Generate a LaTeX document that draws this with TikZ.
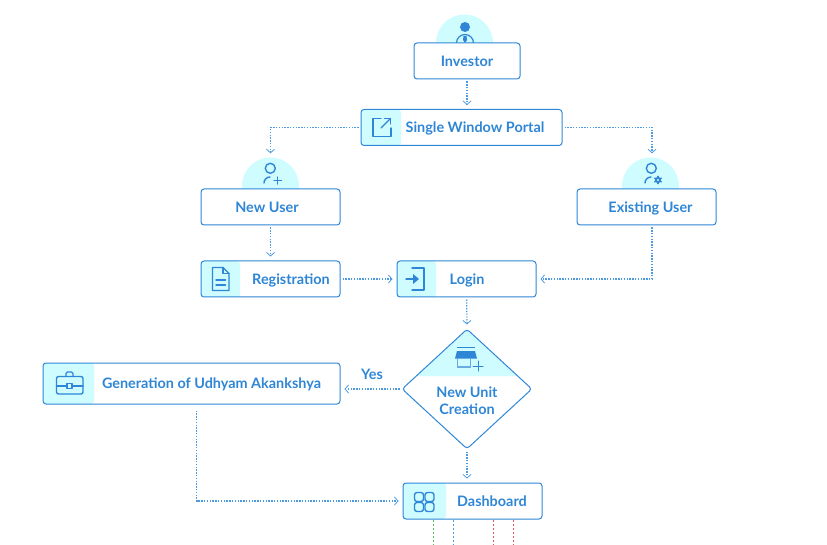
\documentclass[tikz,border=0pt]{standalone}
\usepackage{fontspec}
\setmainfont{Lato}
\usetikzlibrary{arrows.meta,shapes.geometric}
\definecolor{boxblue}{HTML}{2F86D6}
\definecolor{dotblue}{HTML}{4C9BE2}
\definecolor{tintcyan}{HTML}{CFFCFF}
\definecolor{iconblue}{HTML}{2F86D6}
\definecolor{stubgreen}{HTML}{5FC05F}
\definecolor{stubred}{HTML}{E25555}
\tikzset{
  flowbox/.style={draw=boxblue,line width=1pt,rounded corners=3pt,fill=white,inner sep=0pt,
    minimum height=36pt,text=boxblue,text height=12pt,text depth=1.5pt,
    font=\bfseries\fontsize{14.4}{17}\selectfont},
  tinted/.style={path picture={\fill[tintcyan] (path picture bounding box.south west) rectangle
    ([xshift=#1]path picture bounding box.north west);}},
  flowlabel/.style={inner sep=0pt,text=boxblue,align=center,font=\bfseries\fontsize{14.4}{17}\selectfont},
  flowline/.style={draw=dotblue,line width=1.2pt,dash pattern=on 1.4pt off 1.4pt,
    -{Straight Barb[length=3.5pt,width=8pt,line width=0.8pt]},shorten >=4pt,shorten <=2pt},
  stubline/.style={draw=#1,line width=1.3pt,dash pattern=on 2pt off 2pt},
  iconline/.style={draw=iconblue,line width=1.4pt,line cap=round,line join=round},
  halo/.style={circle,fill=tintcyan,minimum size=57pt,inner sep=0pt}
}
\begin{document}
\begin{tikzpicture}[x=1pt,y=-1pt]
\useasboundingbox (0,0) rectangle (827,545);
% halos behind the user boxes
\node[halo] (investorhalo) at (464.5,43) {};
\node[halo] (newhalo) at (270.5,186) {};
\node[halo] (existhalo) at (650.5,186) {};
% investor icon
\fill[iconblue] (465,27) circle (5);
\draw[iconline,line width=1.2pt] (456.5,43) arc (180:360:8.5);
\fill[iconblue] (463.5,36) -- (466.5,36) -- (467,40) -- (465,43) -- (463,40) -- cycle;
% boxes
\node[flowbox,minimum width=106pt] (investor) at (467,61) {Investor};
\node[flowbox,minimum width=201pt,tinted=40pt] (portal) at (461.5,127.5) {\hspace*{27pt}Single Window Portal};
\node[flowbox,minimum width=139pt] (newuser) at (270.5,207) {New User\hspace*{7pt}};
\node[flowbox,minimum width=139pt] (existuser) at (646.5,207) {\hspace*{8pt}Existing User};
\node[flowbox,minimum width=139pt,tinted=39pt] (registration) at (270.5,279) {\hspace*{41pt}Registration};
\node[flowbox,minimum width=139pt,tinted=39pt] (login) at (466.5,279) {\hspace*{1pt}Login};
\node[flowbox,minimum width=297pt,minimum height=41pt,tinted=51pt] (udhyam) at (191.5,383.5) {\hspace*{40pt}Generation of Udhyam Akankshya};
\node[flowbox,minimum width=139pt,tinted=43pt] (dashboard) at (472.5,501) {\hspace*{39pt}Dashboard};
\node[diamond,draw=boxblue,line width=1pt,rounded corners=3pt,fill=white,inner sep=0pt,
  minimum width=130pt,minimum height=120pt,
  path picture={\fill[tintcyan] (path picture bounding box.north west) rectangle
    ([yshift=-47pt]path picture bounding box.north east);}] (newunit) at (467,389) {};
\node[flowlabel] (newunitlabel) at (467,401) {New Unit\\Creation};
\node[flowlabel] (yeslabel) at (372,374.5) {Yes};
% connectors
\coordinate (existtap) at (652,186);
\draw[flowline] (investor) -- (investor |- portal.north);
\draw[flowline] (portal.west) -| (newhalo.north);
\draw[flowline] (portal.east) -| (existtap |- existhalo.north);
\draw[flowline] (newuser) -- (newuser |- registration.north);
\draw[flowline] (registration) -- (login);
\draw[flowline] (existuser.south -| existtap) |- (login.east);
\draw[flowline] (login) -- (newunit.north);
\draw[flowline] (newunit.west) -- (newunit.west -| udhyam.east);
\draw[flowline] (newunit.south) -- (newunit |- dashboard.north);
\draw[flowline,shorten <=6pt] ([xshift=5pt]udhyam.south) |- (dashboard.west);
% stubs below dashboard
\coordinate (stubend) at (0,545);
\foreach \sx/\scol in {-39/stubgreen,-19/dotblue,21/stubred,41/stubred}
  \draw[stubline=\scol] ([xshift=\sx]dashboard.south) -- ([xshift=\sx]dashboard.south |- stubend);
% portal icon
\draw[iconline] (381,118.5) -- (373,118.5) -- (373,136.5) -- (391,136.5) -- (391,128);
\draw[iconline] (381,128) -- (390.5,118.5);
\draw[iconline] (384.5,118.5) -- (390.5,118.5) -- (390.5,124);
% new user icon
\draw[iconline] (270.3,168.3) circle (5);
\draw[iconline] (264,183) arc (180:270:6);
\draw[iconline] (274,180.5) -- (281.5,180.5);
\draw[iconline] (277.7,177) -- (277.7,184);
% existing user icon
\draw[iconline] (651.3,168.3) circle (5);
\draw[iconline] (645,183) arc (180:270:6);
\foreach \ang in {90,210,330} \fill[iconblue] (658,180) ++(\ang:4.4) -- ++(\ang+150:7.6) -- ++(\ang+270:7.6) -- cycle;
\foreach \ang in {30,150,270} \fill[iconblue] (658,180) ++(\ang:4.4) -- ++(\ang+150:7.6) -- ++(\ang+270:7.6) -- cycle;
\fill[tintcyan] (658,180) circle (1.2);
% document icon
\draw[iconline] (223,267.5) -- (212.5,267.5) -- (212.5,290.5) -- (229,290.5) -- (229,273.5) -- cycle;
\draw[iconline] (223,267.5) -- (223,273.5) -- (229,273.5);
\draw[iconline] (216,280) -- (225.5,280);
\draw[iconline] (216,285) -- (225.5,285);
% login icon
\draw[iconline] (412,268) -- (424,268) -- (424,290) -- (412,290);
\draw[iconline] (406,279) -- (417,279);
\fill[iconblue] (413,274) -- (419,279) -- (413,284) -- cycle;
% store icon
\draw[iconblue,line width=1pt] (457,347) -- (475,347);
\fill[iconblue] (457,351) -- (475,351) -- (477,358.5) -- (455,358.5) -- cycle;
\draw[iconblue!70,line width=1.4pt] (457.5,358) -- (457.5,367) -- (470.5,367) -- (470.5,358);
\draw[iconline,line width=1pt] (473,366) -- (483,366);
\draw[iconline,line width=1pt] (478,361) -- (478,371);
% grid icon
\foreach \gx/\gy in {414.5/492.5,425/492.5,414.5/502.5,425/502.5}
  \draw[iconline] (\gx,\gy) [rounded corners=2.5pt] rectangle ++(9,9);
% briefcase icon
\draw[iconline] (56.5,376.5) [rounded corners=2pt] rectangle (83,394);
\draw[iconline] (66,376.5) [rounded corners=1.5pt] -- (66,372) -- (73,372) -- (73,376.5);
\draw[iconline] (56.5,386) -- (67,386);
\draw[iconline] (72,386) -- (83,386);
\draw[iconline] (67,383.5) rectangle (72,388.5);
\end{tikzpicture}
\end{document}
